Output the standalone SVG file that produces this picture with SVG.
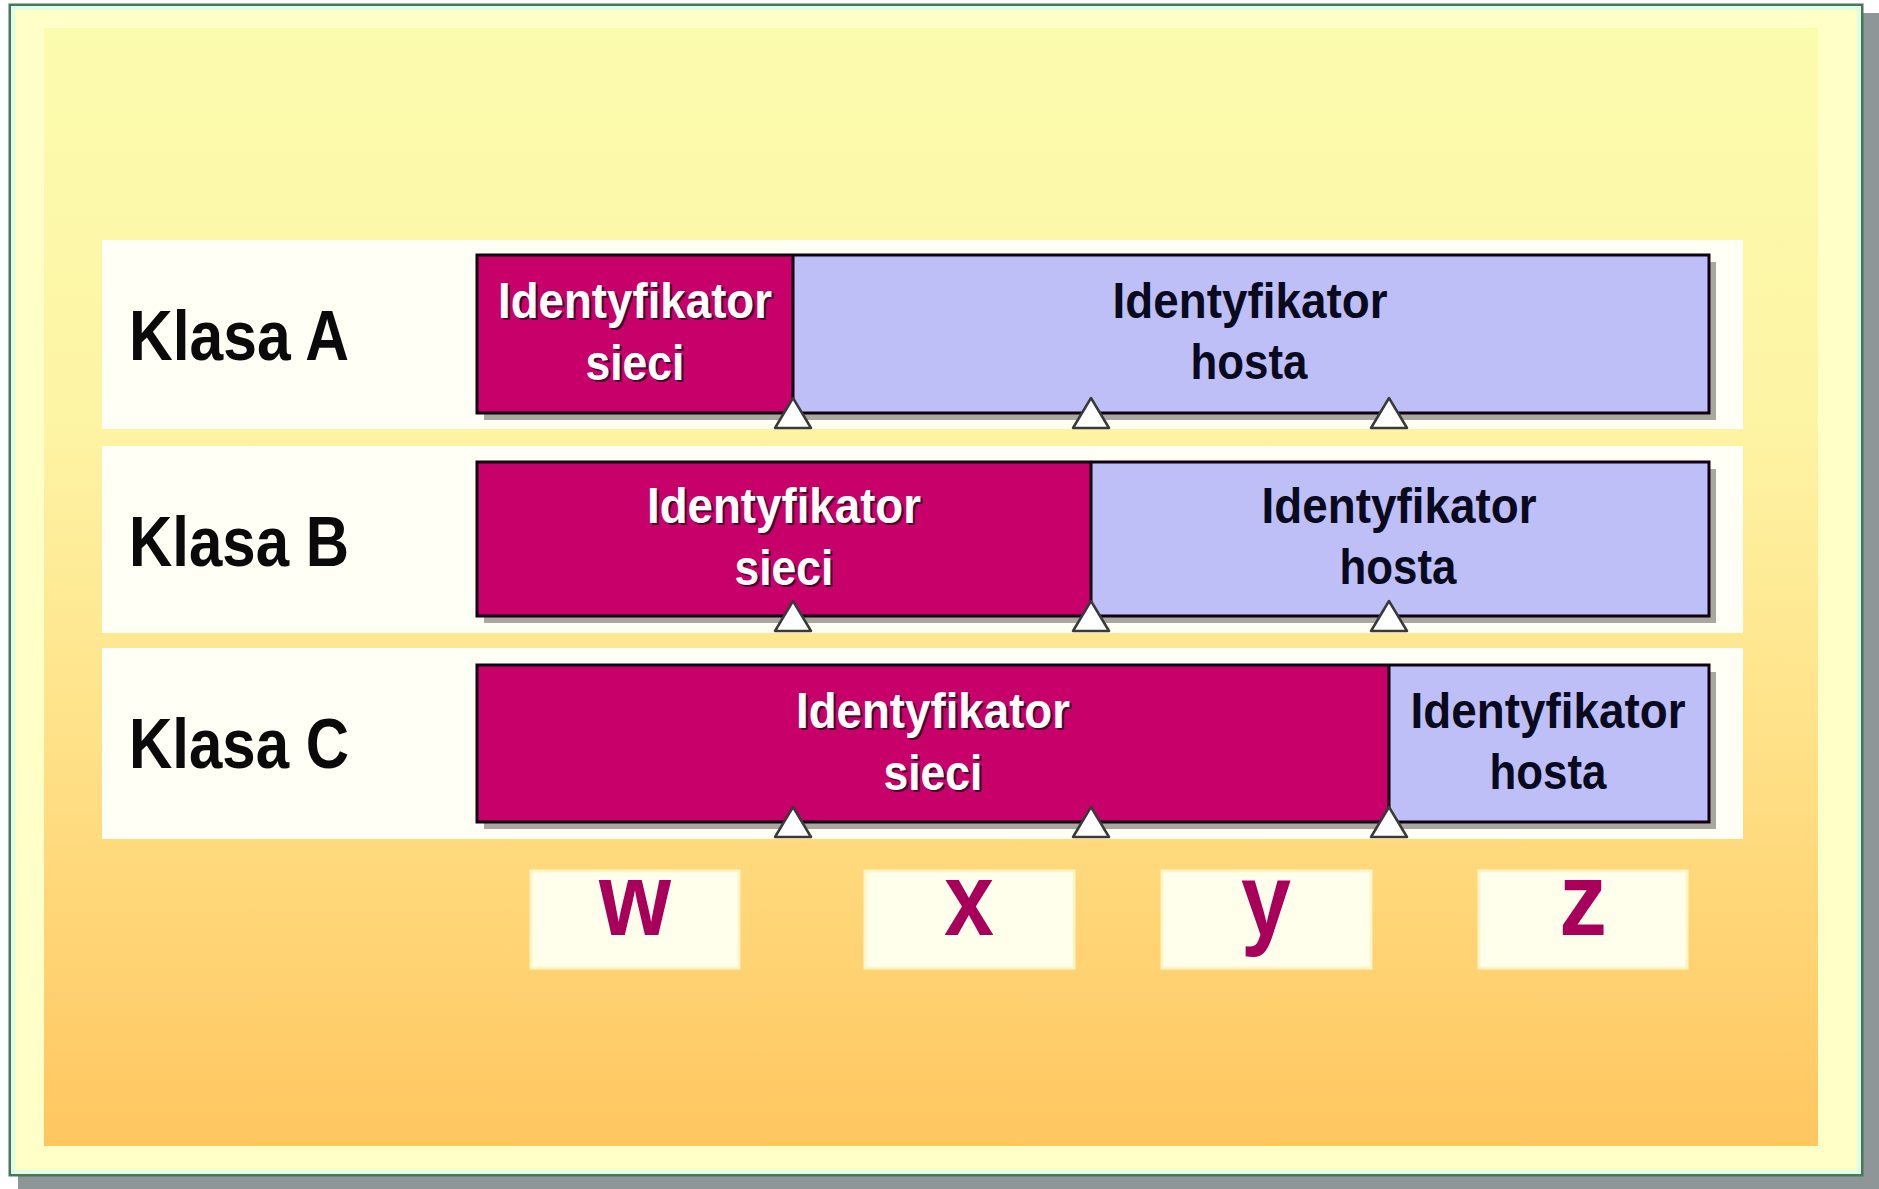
<svg xmlns="http://www.w3.org/2000/svg" width="1879" height="1189" viewBox="0 0 1879 1189">
<defs>
<linearGradient id="bg" x1="0" y1="0" x2="0" y2="1">
<stop offset="0" stop-color="#FCFCAE"/>
<stop offset="0.35" stop-color="#FDF4A4"/>
<stop offset="0.6" stop-color="#FFE48C"/>
<stop offset="1" stop-color="#FFC660"/>
</linearGradient>
<polygon id="tri" points="0,-15 -18,15 18,15"/>
</defs>
<style>
.band{fill:#FFFFF6}
.shadow{fill:#A8A8A0}
.net{fill:#C8006A;stroke:none}
.host{fill:#BFBFF8;stroke:none}
.outline{fill:none;stroke:#100010;stroke-width:3}
.div{stroke:#100010;stroke-width:3}
.klasa{font-family:"Liberation Sans",Arial,sans-serif;font-weight:bold;font-size:70px;fill:#0A0A0A}
.lbl{font-family:"Liberation Sans",Arial,sans-serif;font-weight:bold;font-size:50px;text-anchor:middle}
.wt{fill:#FFFFFF}
.ws{fill:#4A0028}
.bk{fill:#0A0A1E}
.tri{fill:#FFFFFF;stroke:#3A3A3A;stroke-width:2.5;stroke-linejoin:round}
.box{fill:#FFFFEC;stroke:#FFF6C8;stroke-width:3}
.let{font-family:"Liberation Sans",Arial,sans-serif;font-weight:bold;font-size:104px;fill:#A8005A;text-anchor:middle}
</style>

<g id="frame">
<rect x="18" y="13" width="1861" height="1176" fill="#8E9698"/>
<rect x="10" y="5" width="1852" height="1170" fill="#FFFFC8" stroke="#4A745C" stroke-width="3"/>
<rect x="13" y="8" width="1846" height="1164" fill="none" stroke="#DDFFE8" stroke-width="4"/>
<rect x="44" y="28" width="1774" height="1118" fill="url(#bg)"/>
</g>

<g id="klasaA">
<rect class="band" x="102" y="240" width="1641" height="189"/>
<text class="klasa" x="129" y="360" textLength="220" lengthAdjust="spacingAndGlyphs">Klasa A</text>
<rect class="shadow" x="484" y="262" width="1232" height="158"/>
<rect class="net" x="477" y="255" width="316" height="158"/>
<rect class="host" x="793" y="255" width="916" height="158"/>
<rect class="outline" x="477" y="255" width="1232" height="158"/>
<line class="div" x1="793" y1="255" x2="793" y2="413"/>
<g class="lbl">
<text class="ws" x="637" y="320" textLength="274" lengthAdjust="spacingAndGlyphs">Identyfikator</text>
<text class="wt" x="635" y="318" textLength="274" lengthAdjust="spacingAndGlyphs">Identyfikator</text>
<text class="ws" x="637" y="382" textLength="99" lengthAdjust="spacingAndGlyphs">sieci</text>
<text class="wt" x="635" y="380" textLength="99" lengthAdjust="spacingAndGlyphs">sieci</text>
<text class="bk" x="1250" y="318" textLength="275" lengthAdjust="spacingAndGlyphs">Identyfikator</text>
<text class="bk" x="1249" y="379" textLength="117" lengthAdjust="spacingAndGlyphs">hosta</text>
</g>
<use href="#tri" class="tri" x="793" y="413"/>
<use href="#tri" class="tri" x="1091" y="413"/>
<use href="#tri" class="tri" x="1389" y="413"/>
</g>

<g id="klasaB">
<rect class="band" x="102" y="446" width="1641" height="187"/>
<text class="klasa" x="129" y="566" textLength="220" lengthAdjust="spacingAndGlyphs">Klasa B</text>
<rect class="shadow" x="484" y="469" width="1232" height="154"/>
<rect class="net" x="477" y="462" width="614" height="154"/>
<rect class="host" x="1091" y="462" width="618" height="154"/>
<rect class="outline" x="477" y="462" width="1232" height="154"/>
<line class="div" x1="1091" y1="462" x2="1091" y2="616"/>
<g class="lbl">
<text class="ws" x="786" y="525" textLength="274" lengthAdjust="spacingAndGlyphs">Identyfikator</text>
<text class="wt" x="784" y="523" textLength="274" lengthAdjust="spacingAndGlyphs">Identyfikator</text>
<text class="ws" x="786" y="587" textLength="99" lengthAdjust="spacingAndGlyphs">sieci</text>
<text class="wt" x="784" y="585" textLength="99" lengthAdjust="spacingAndGlyphs">sieci</text>
<text class="bk" x="1399" y="523" textLength="275" lengthAdjust="spacingAndGlyphs">Identyfikator</text>
<text class="bk" x="1398" y="584" textLength="117" lengthAdjust="spacingAndGlyphs">hosta</text>
</g>
<use href="#tri" class="tri" x="793" y="616"/>
<use href="#tri" class="tri" x="1091" y="616"/>
<use href="#tri" class="tri" x="1389" y="616"/>
</g>

<g id="klasaC">
<rect class="band" x="102" y="648" width="1641" height="191"/>
<text class="klasa" x="129" y="768" textLength="220" lengthAdjust="spacingAndGlyphs">Klasa C</text>
<rect class="shadow" x="484" y="672" width="1232" height="157"/>
<rect class="net" x="477" y="665" width="912" height="157"/>
<rect class="host" x="1389" y="665" width="320" height="157"/>
<rect class="outline" x="477" y="665" width="1232" height="157"/>
<line class="div" x1="1389" y1="665" x2="1389" y2="822"/>
<g class="lbl">
<text class="ws" x="935" y="730" textLength="274" lengthAdjust="spacingAndGlyphs">Identyfikator</text>
<text class="wt" x="933" y="728" textLength="274" lengthAdjust="spacingAndGlyphs">Identyfikator</text>
<text class="ws" x="935" y="792" textLength="99" lengthAdjust="spacingAndGlyphs">sieci</text>
<text class="wt" x="933" y="790" textLength="99" lengthAdjust="spacingAndGlyphs">sieci</text>
<text class="bk" x="1548" y="728" textLength="275" lengthAdjust="spacingAndGlyphs">Identyfikator</text>
<text class="bk" x="1548" y="789" textLength="117" lengthAdjust="spacingAndGlyphs">hosta</text>
</g>
<use href="#tri" class="tri" x="793" y="822"/>
<use href="#tri" class="tri" x="1091" y="822"/>
<use href="#tri" class="tri" x="1389" y="822"/>
</g>

<g id="octet-w">
<rect class="box" x="531" y="871" width="208" height="97"/>
<text class="let" x="635" y="935" textLength="72" lengthAdjust="spacingAndGlyphs">w</text>
</g>
<g id="octet-x">
<rect class="box" x="865" y="871" width="209" height="97"/>
<text class="let" x="969" y="935" textLength="50" lengthAdjust="spacingAndGlyphs">x</text>
</g>
<g id="octet-y">
<rect class="box" x="1162" y="871" width="209" height="97"/>
<text class="let" x="1266" y="935" textLength="50" lengthAdjust="spacingAndGlyphs">y</text>
</g>
<g id="octet-z">
<rect class="box" x="1479" y="871" width="208" height="97"/>
<text class="let" x="1583" y="935" textLength="48" lengthAdjust="spacingAndGlyphs">z</text>
</g>
</svg>
